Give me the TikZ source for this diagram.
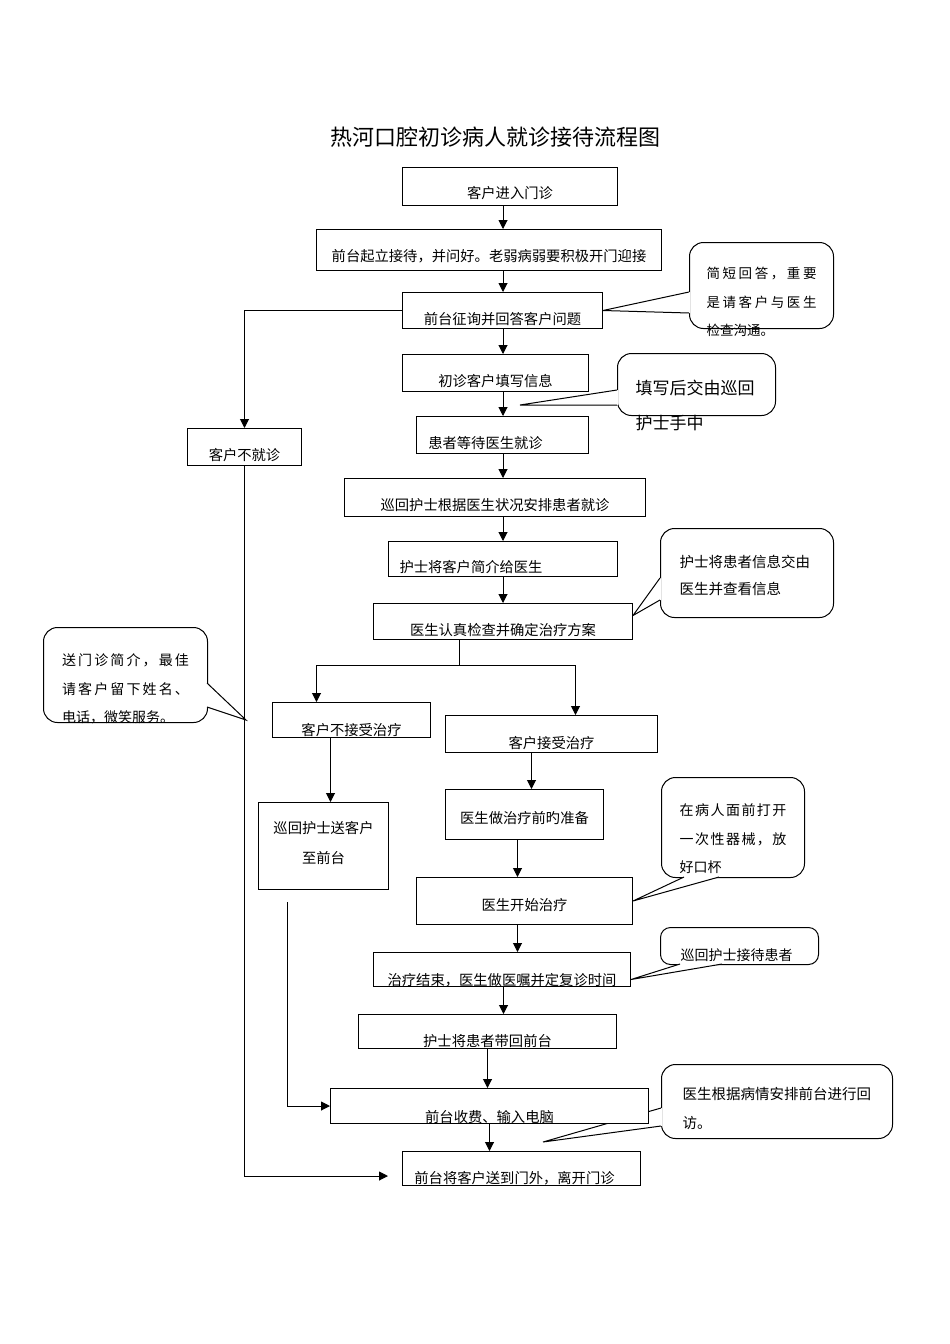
\documentclass[tikz,border=0pt]{standalone}
\usepackage{fontspec}
\newfontfamily\cjk{Noto Sans CJK SC}
\usetikzlibrary{arrows.meta, positioning, calc, backgrounds}
\tikzset{
  flowbox/.style={
    rectangle, draw, fill=white, line width=1pt,
    inner sep=0pt, anchor=north west,
    font=\cjk\fontsize{14.3}{18}\selectfont
  },
  callout/.style={
    rectangle, rounded corners=14pt, draw, fill=white, line width=1pt,
    inner ysep=0pt, anchor=north west, align=left,
    font=\cjk\fontsize{14}{28.5}\selectfont
  },
  arrow/.style={-{Triangle[length=9pt,width=9pt]}, line width=1pt},
  wedge/.style={line width=1pt},
}

\begin{document}
\begin{tikzpicture}[x=1pt, y=-1pt]
  \useasboundingbox (0,0) rectangle (950,1344);

  \node[font=\cjk\fontsize{22}{26}\selectfont] (title) at (495,137) {热河口腔初诊病人就诊接待流程图};

  % main column
  \node[flowbox, minimum width=215pt, text height=31.3pt, text depth=6.7pt] (enter) at (402,167) {客户进入门诊};
  \node[flowbox, minimum width=345pt, text height=32.3pt, text depth=8.7pt] (greet) at (316,229) {前台起立接待，并问好。老弱病弱要积极开门迎接};
  \node[flowbox, minimum width=200pt, text height=32.3pt, text depth=3.7pt] (ask) at (402,292) {前台征询并回答客户问题};
  \node[flowbox, minimum width=186pt, text height=32.3pt, text depth=4.7pt] (fill) at (402,354) {初诊客户填写信息};
  \node[flowbox, minimum width=172pt, text height=32.3pt, text depth=4.7pt] (wait) at (416,416) {患者等待医生就诊\rule{34pt}{0pt}};
  \node[flowbox, minimum width=301pt, text height=32.3pt, text depth=5.7pt] (arrange) at (344,478) {巡回护士根据医生状况安排患者就诊};
  \node[flowbox, minimum width=229pt, text height=31.3pt, text depth=3.7pt] (intro) at (388,541) {护士将客户简介给医生\rule{64pt}{0pt}};
  \node[flowbox, minimum width=259pt, text height=32.3pt, text depth=3.7pt] (exam) at (373,603) {医生认真检查并确定治疗方案};
  \node[flowbox, minimum width=114pt, text height=32.3pt, text depth=4.7pt] (noshow) at (187,428) {客户不就诊};

  % after the examination
  \node[flowbox, minimum width=158pt, text height=33.3pt, text depth=1.7pt] (refuse) at (272,702) {客户不接受治疗};
  \node[flowbox, minimum width=130pt, text width=130pt, text height=31.3pt, text depth=55.7pt, align=center,
        font=\cjk\fontsize{14.3}{30}\selectfont] (escort) at (258,802) {巡回护士送客户\\至前台};
  \node[flowbox, minimum width=212pt, text height=33.3pt, text depth=3.7pt] (accept) at (445,715) {客户接受治疗};
  \node[flowbox, minimum width=158pt, text height=34.3pt, text depth=15.7pt] (prep) at (445,789) {医生做治疗前旳准备};
  \node[flowbox, minimum width=216pt, text height=33.3pt, text depth=13.7pt] (start) at (416,877) {医生开始治疗};
  \node[flowbox, minimum width=257pt, text height=33.3pt, text depth=0.7pt] (finish) at (373,952) {治疗结束，医生做医嘱并定复诊时间};
  \node[flowbox, minimum width=258pt, text height=32.3pt, text depth=1.7pt] (back) at (358,1014) {护士将患者带回前台};
  \node[flowbox, minimum width=318pt, text height=34.3pt, text depth=0.7pt] (pay) at (330,1088) {前台收费、输入电脑};
  \node[flowbox, minimum width=238pt, text height=32.3pt, text depth=1.7pt] (leave) at (402,1151) {前台将客户送到门外，离开门诊\rule{14pt}{0pt}};

  % connectors
  \coordinate (axis) at (503,0);
  \draw[arrow] (enter.south -| axis) -- (greet.north -| axis);
  \draw[arrow] (greet.south -| axis) -- (ask.north -| axis);
  \draw[arrow] (ask.south -| axis) -- (fill.north -| axis);
  \draw[arrow] (fill.south -| axis) -- (wait.north -| axis);
  \draw[arrow] (wait.south -| axis) -- (arrange.north -| axis);
  \draw[arrow] (arrange.south -| axis) -- (intro.north -| axis);
  \draw[arrow] (intro.south -| axis) -- (exam.north -| axis);

  \draw[arrow] (ask.west) -| (noshow.north);
  \coordinate (outL) at (388,1176);
  \draw[arrow] (noshow.south) |- (outL);

  \coordinate (split) at (459,665);
  \draw[line width=1pt] (exam.south -| split) -- (split);
  \draw[arrow] (split) -| ([xshift=-35pt]refuse.north);
  \draw[arrow] (split) -| ([xshift=24pt]accept.north);

  \draw[arrow] ([xshift=-21pt]refuse.south) -- ([xshift=7pt]escort.north);
  \draw[arrow] ([xshift=-20pt]accept.south) -- ([xshift=7pt]prep.north);
  \draw[arrow] ([xshift=-7pt]prep.south) -- ([xshift=-7pt]start.north);
  \draw[arrow] ([xshift=-7pt]start.south) -- ([xshift=15.5pt]finish.north);
  \draw[arrow] ([xshift=1.5pt]finish.south) -- ([xshift=16pt]back.north);
  \draw[arrow] (back.south) -- (back.south |- pay.north);
  \draw[arrow] (pay.south) -- (pay.south |- leave.north);
  \coordinate (escL) at (287,902);
  \draw[arrow] (escL) |- (pay.west);

  % callouts
  \begin{scope}[on background layer]
    \node[callout, inner xsep=17pt, text width=110pt, text height=36.3pt, text depth=49.7pt,
          font=\cjk\fontsize{13.5}{28.5}\selectfont] (noteA) at (689,242)
      {\makebox[110pt][s]{简\hfil 短\hfil 回\hfil 答\hfil ，\hfil 重\hfil 要}\\
       \makebox[110pt][s]{是\hfil 请\hfil 客\hfil 户\hfil 与\hfil 医\hfil 生}\\检查沟通。};
    \fill[white] (689,292) -- (ask.east) -- (689,313) -- (690.2,313) -- (690.2,292) -- cycle;
    \draw[wedge] (689,292) -- (ask.east) -- (689,313);

    \node[callout, inner xsep=18pt, text width=122pt, text height=40.5pt, text depth=21.5pt,
          font=\cjk\fontsize{17}{35}\selectfont] (noteB) at (617,353)
      {填写后交由巡回\\护士手中};
    \coordinate (tipB) at (520,405);
    \fill[white] (617,390) -- (tipB) -- (617,405) -- (618.2,405) -- (618.2,390) -- cycle;
    \draw[wedge] (617,390) -- (tipB) -- (617,405);

    \node[callout, inner xsep=19pt, text width=135pt, text height=38.5pt, text depth=50.5pt,
          font=\cjk\fontsize{14.5}{27}\selectfont] (noteC) at (660,528)
      {护士将患者信息交由\\医生并查看信息};
    \fill[white] (660,578) -- ($(exam.east)+(0,-6)$) -- (660,600) -- (661.2,600) -- (661.2,578) -- cycle;
    \draw[wedge] (660,578) -- ($(exam.east)+(0,-6)$) -- (660,600);

    \node[callout, inner xsep=18.5pt, text width=127pt, text height=38.3pt, text depth=56.7pt,
          font=\cjk\fontsize{14}{28.3}\selectfont] (noteD) at (43,627)
      {\makebox[127pt][s]{送\hfil 门\hfil 诊\hfil 简\hfil 介\hfil ，\hfil 最\hfil 佳}\\
       \makebox[127pt][s]{请\hfil 客\hfil 户\hfil 留\hfil 下\hfil 姓\hfil 名\hfil 、}\\电话，微笑服务。};
    \coordinate (tipD) at (246,720);
    \fill[white] (207,683) -- (tipD) -- (207,707) -- (205.8,707) -- (205.8,683) -- cycle;
    \draw[wedge] (207,683) -- (tipD) -- (207,707);

    \node[callout, inner xsep=18pt, text width=107pt, text height=38.3pt, text depth=61.7pt] (noteE) at (661,777)
      {\makebox[107pt][s]{在\hfil 病\hfil 人\hfil 面\hfil 前\hfil 打\hfil 开}\\
       \makebox[107pt][s]{一\hfil 次\hfil 性\hfil 器\hfil 械\hfil ，\hfil 放}\\好口杯};
    \fill[white] (684,877) -- (start.east) -- (719,877) -- (719,875.8) -- (684,875.8) -- cycle;
    \draw[wedge] (684,877) -- (start.east) -- (719,877);

    \node[callout, rounded corners=10pt, inner xsep=20pt, text width=118pt, text height=33.3pt, text depth=3.7pt] (noteF) at (660,927)
      {巡回护士接待患者};
    \fill[white] (680,964) -- ($(finish.east)+(0,10)$) -- (722,964) -- (722,962.8) -- (680,962.8) -- cycle;
    \draw[wedge] (680,964) -- ($(finish.east)+(0,10)$) -- (722,964);

    \node[callout, inner xsep=21pt, text width=189pt, text height=34.5pt, text depth=39.5pt,
          font=\cjk\fontsize{14.5}{29}\selectfont] (noteG) at (661,1064)
      {医生根据病情安排前台进行回\\访。};
    \coordinate (tipG) at (543,1142);
    \fill[white] (661,1108) -- (tipG) -- (661,1126) -- (662.2,1126) -- (662.2,1108) -- cycle;
    \draw[wedge] (661,1108) -- (tipG) -- (661,1126);
  \end{scope}
\end{tikzpicture}
\end{document}
